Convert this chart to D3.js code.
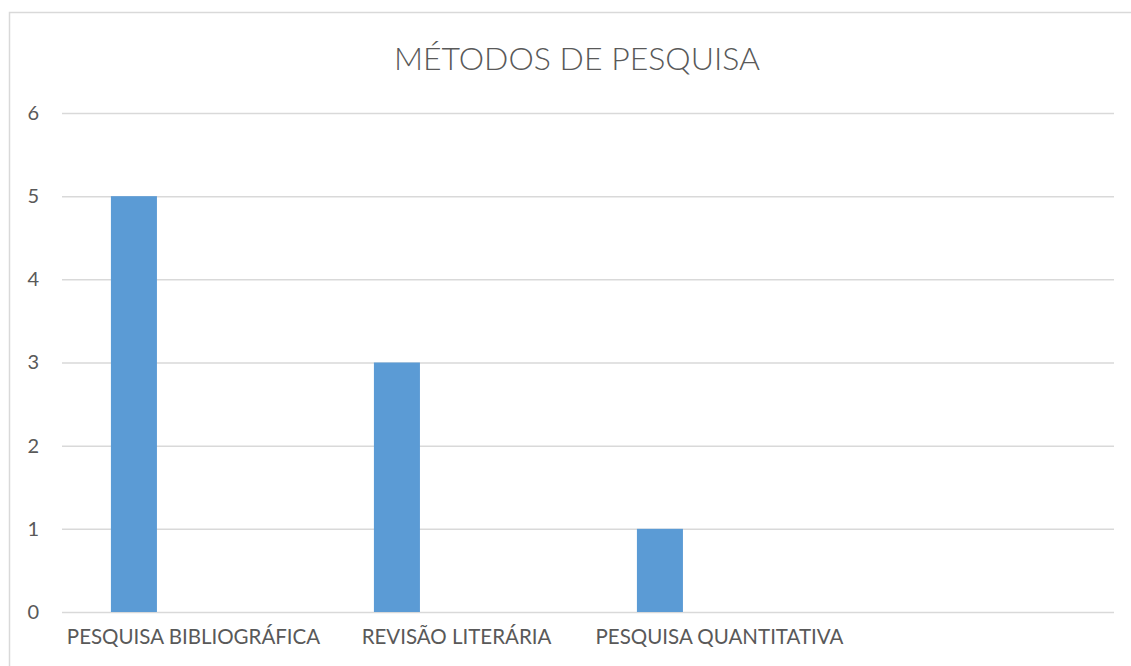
<!DOCTYPE html>
<html>
<head>
<meta charset="utf-8">
<script src="https://cdn.jsdelivr.net/npm/d3@7"></script>
<style>
  body { margin: 0; background: #fff; }
  svg { display: block; font-family: Lato, "Open Sans", sans-serif; }
</style>
</head>
<body>
<div class="chart"></div>
<script>
// data
var categories = ["PESQUISA BIBLIOGRÁFICA", "REVISÃO LITERÁRIA", "PESQUISA QUANTITATIVA", ""];
var values = [5, 3, 1, null];
var yTicks = [0, 1, 2, 3, 4, 5, 6];
var chartTitle = "MÉTODOS DE PESQUISA";

var width = 1131, height = 666;
var margin = {top: 113, right: 17, bottom: 54, left: 62};
var plotW = width - margin.left - margin.right,
    plotH = height - margin.top - margin.bottom;

var svg = d3.select(".chart").append("svg")
    .attr("width", width)
    .attr("height", height);

// chart border
svg.append("rect")
    .attr("x", 9.5).attr("y", 12.5)
    .attr("width", width).attr("height", height)
    .attr("fill", "none")
    .attr("stroke", "#d9d9d9")
    .attr("stroke-width", 1.5);

var g = svg.append("g")
    .attr("transform", "translate(" + margin.left + "," + margin.top + ")");

var x = d3.scaleBand()
    .domain(categories)
    .range([0, plotW])
    .padding(0);

var y = d3.scaleLinear()
    .domain([0, 6])
    .range([plotH, 0]);

// gridlines
g.append("g")
    .selectAll("line")
    .data(yTicks)
    .enter().append("line")
    .attr("x1", 0)
    .attr("x2", plotW)
    .attr("y1", function(d) { return y(d) + 0.5; })
    .attr("y2", function(d) { return y(d) + 0.5; })
    .attr("stroke", "#d9d9d9")
    .attr("stroke-width", 1.5);

// bars (sit left of band centre like the excel cluster)
var barOffset = x.bandwidth() * 0.186,
    barWidth = x.bandwidth() * 0.175;

g.append("g")
    .selectAll("rect")
    .data(categories.map(function(c, i) { return {cat: c, val: values[i]}; })
        .filter(function(d) { return d.val != null; }))
    .enter().append("rect")
    .attr("x", function(d) { return x(d.cat) + barOffset; })
    .attr("y", function(d) { return y(d.val); })
    .attr("width", barWidth)
    .attr("height", function(d) { return y(0) - y(d.val); })
    .attr("fill", "#5b9bd5");

// y axis labels
var yAxis = g.append("g")
    .call(d3.axisLeft(y).tickValues(yTicks).tickSize(0).tickPadding(23).tickFormat(d3.format("d")));
yAxis.select(".domain").remove();
yAxis.selectAll("text")
    .attr("fill", "#595959")
    .attr("font-size", "20px")
    .attr("font-family", "Lato, 'Open Sans', sans-serif");

// x axis labels
var xAxis = g.append("g")
    .attr("transform", "translate(0," + plotH + ")")
    .call(d3.axisBottom(x).tickSize(0).tickPadding(17));
xAxis.select(".domain").remove();
xAxis.selectAll("text")
    .attr("fill", "#595959")
    .attr("font-size", "20.5px")
    .attr("font-family", "Lato, 'Open Sans', sans-serif");

// title
svg.append("text")
    .attr("x", 577)
    .attr("y", 70)
    .attr("text-anchor", "middle")
    .attr("fill", "#595959")
    .attr("font-size", "32px")
    .attr("font-weight", 300)
    .text(chartTitle);
</script>
</body>
</html>
